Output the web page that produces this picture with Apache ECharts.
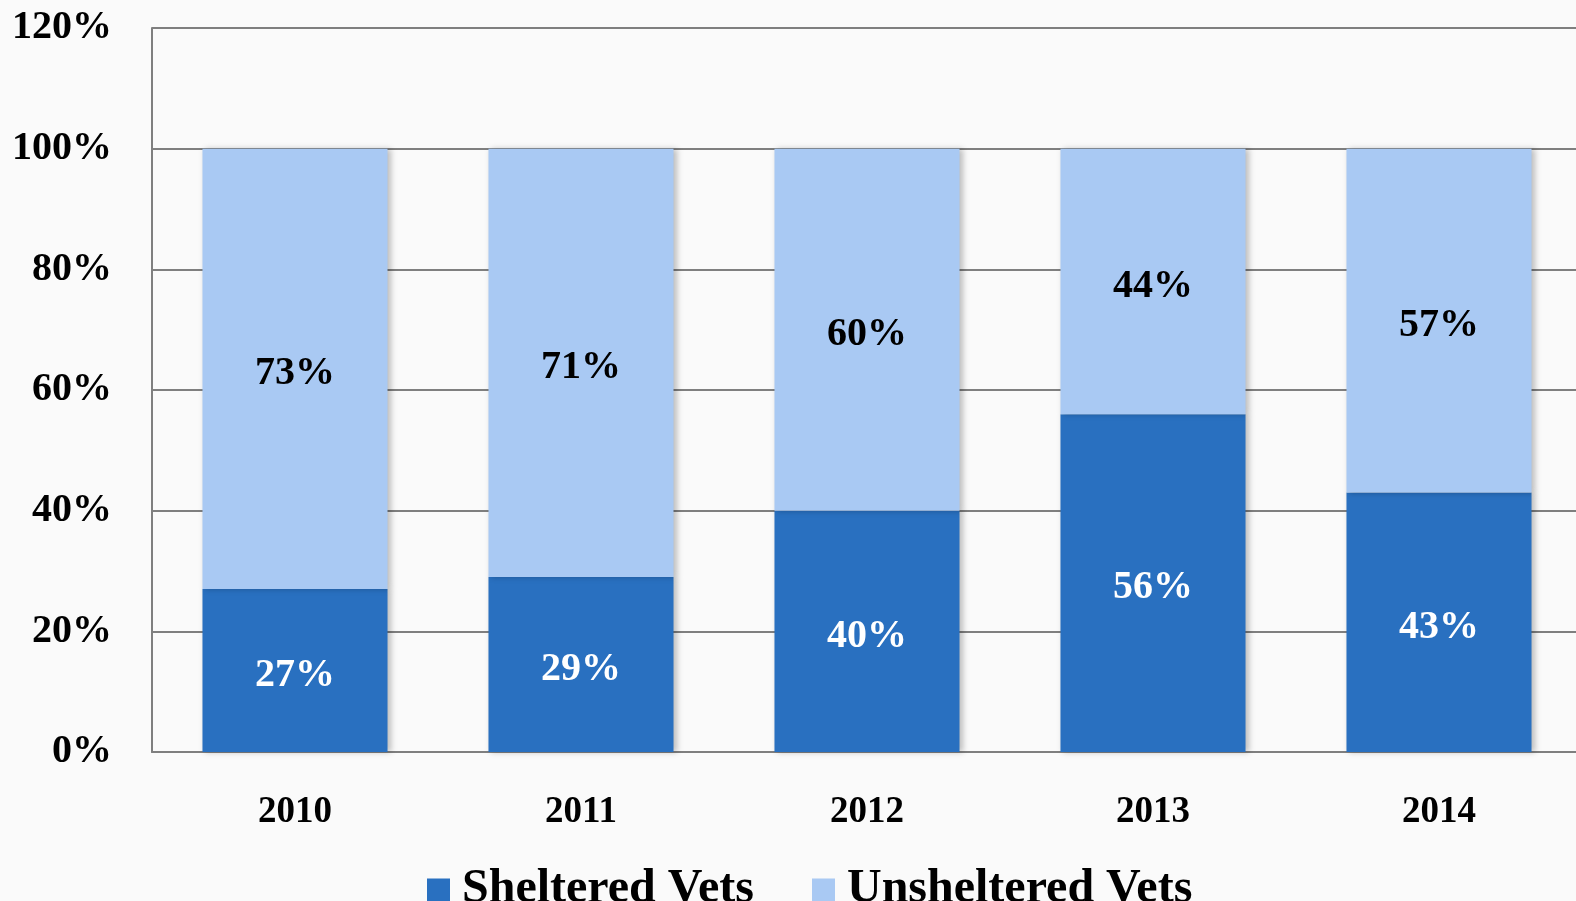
<!DOCTYPE html>
<html><head><meta charset="utf-8">
<script src="https://cdn.jsdelivr.net/npm/echarts@6/dist/echarts.min.js"></script>
<style>html,body{margin:0;padding:0;background:#fafafa;width:1576px;height:901px;overflow:hidden;}#c{width:1600px;height:901px;}</style>
</head><body><div id="c"></div>
<script>
const categories = ['2010','2011','2012','2013','2014'];
const sheltered = [27, 29, 40, 56, 43];
const unsheltered = [73, 71, 60, 44, 57];
const seriesNames = ['Sheltered Vets', 'Unsheltered Vets'];

const FONT = '"Liberation Serif", "DejaVu Serif", serif';
const chart = echarts.init(document.getElementById('c'));
const shadow = {shadowColor:'rgba(0,0,0,0.25)', shadowBlur:6, shadowOffsetX:3, shadowOffsetY:0};
chart.setOption({
  backgroundColor: '#fafafa',
  animation: false,
  grid: {left: 152, top: 28, width: 1430, bottom: 149, containLabel: false},
  legend: {
    bottom: -18, left: 422,
    icon: 'rect',
    itemWidth: 23, itemHeight: 23, itemGap: 58,
    textStyle: {fontFamily: FONT, fontWeight: 'bold', fontSize: 48, color: '#000', padding: [0,0,0,7]},
    data: seriesNames
  },
  xAxis: {
    type: 'category', data: categories,
    axisLine: {lineStyle: {color: '#7f7f7f', width: 2}},
    axisTick: {show: false},
    axisLabel: {margin: 42, fontFamily: FONT, fontWeight: 'bold', fontSize: 37, color: '#000'}
  },
  yAxis: {
    type: 'value', min: 0, max: 120, interval: 20,
    axisLine: {show: true, lineStyle: {color: '#7f7f7f', width: 2}},
    axisTick: {show: false},
    splitLine: {lineStyle: {color: '#7f7f7f', width: 2}},
    axisLabel: {margin: 40, formatter: '{value}%', fontFamily: FONT, fontWeight: 'bold', fontSize: 40, color: '#000'}
  },
  series: [
    {name: seriesNames[0], type: 'bar', stack: 's', data: sheltered, barWidth: '64.7%',
     itemStyle: Object.assign({color: '#2970c0'}, shadow),
     label: {show: true, position: 'inside', offset: [0, 5], formatter: '{c}%', fontFamily: FONT, fontWeight: 'bold', fontSize: 40, color: '#fff'}},
    {name: seriesNames[1], type: 'bar', stack: 's', data: unsheltered, barWidth: '64.7%',
     itemStyle: Object.assign({color: '#a9c9f3'}, shadow),
     label: {show: true, position: 'inside', offset: [0, 5], formatter: '{c}%', fontFamily: FONT, fontWeight: 'bold', fontSize: 40, color: '#000'}}
  ]
});
</script></body></html>
